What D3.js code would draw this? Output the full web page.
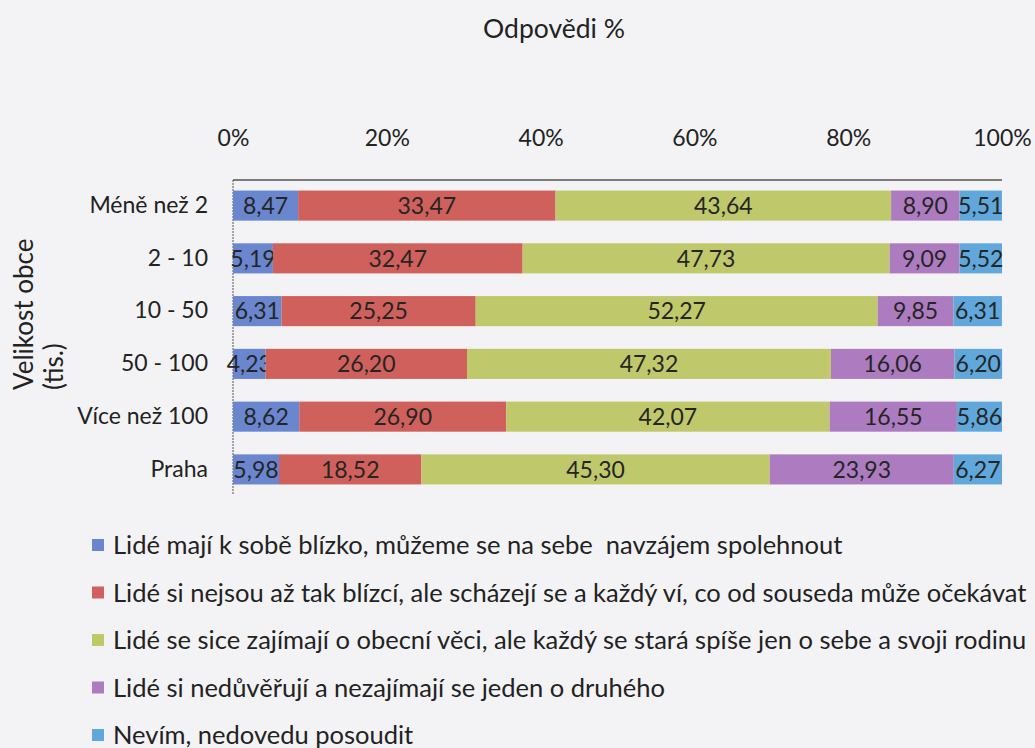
<!DOCTYPE html>
<html lang="cs">
<head>
<meta charset="UTF-8">
<title>Odpovědi %</title>
<style>
  body { margin: 0; background: #f3f3f5; }
  svg { display: block; font-family: Lato, "Liberation Sans", sans-serif; }
</style>
</head>
<body>
<script src="https://cdn.jsdelivr.net/npm/d3@7/dist/d3.min.js"></script>
<script>
// kategorie (velikost obce)
var categories = ['Méně než 2', '2 - 10', '10 - 50', '50 - 100', 'Více než 100', 'Praha'];
// řady - odpovědi
var seriesNames = [
  'Lidé mají k sobě blízko, můžeme se na sebe  navzájem spolehnout',
  'Lidé si nejsou až tak blízcí, ale scházejí se a každý ví, co od souseda může očekávat',
  'Lidé se sice zajímají o obecní věci, ale každý se stará spíše jen o sebe a svoji rodinu',
  'Lidé si nedůvěřují a nezajímají se jeden o druhého',
  'Nevím, nedovedu posoudit'
];
var blizko = [8.47, 5.19, 6.31, 4.23, 8.62, 5.98];
var nejsouBlizci = [33.47, 32.47, 25.25, 26.20, 26.90, 18.52];
var zajimaji = [43.64, 47.73, 52.27, 47.32, 42.07, 45.30];
var neduveruji = [8.90, 9.09, 9.85, 16.06, 16.55, 23.93];
var nevim = [5.51, 5.52, 6.31, 6.20, 5.86, 6.27];
var tickValues = [0, 20, 40, 60, 80, 100];

var colors = ['#6a86cf', '#cf605b', '#c0c86c', '#ad7cc0', '#60a8dc'];

var width = 1035, height = 748;
var margin = {left: 233, right: 33, top: 180, bottom: 253};

var svg = d3.select('body').append('svg')
  .attr('width', width)
  .attr('height', height);

// data pro stack
var rows = categories.map(function(c, i) {
  return {cat: c, s0: blizko[i], s1: nejsouBlizci[i], s2: zajimaji[i], s3: neduveruji[i], s4: nevim[i]};
});
var keys = ['s0', 's1', 's2', 's3', 's4'];
var stacked = d3.stack().keys(keys)(rows);

var x = d3.scaleLinear().domain([0, 100]).range([margin.left, width - margin.right]);
var y = d3.scaleBand().domain(categories)
  .range([margin.top, height - margin.bottom])
  .paddingInner(0.43).paddingOuter(0.2);

// titulek
svg.append('text')
  .attr('x', 554).attr('y', 38)
  .attr('text-anchor', 'middle')
  .attr('font-size', 26.5).attr('fill', '#222')
  .text('Odpovědi %');

// horní osa
var xAxis = d3.axisTop(x).tickValues(tickValues)
  .tickFormat(function(d) { return d + '%'; })
  .tickSize(0).tickPadding(0);
var gx = svg.append('g').attr('transform', 'translate(0,' + 146 + ')').call(xAxis);
gx.select('.domain').remove();
gx.selectAll('text').attr('font-size', 23).attr('fill', '#222').attr('font-family', 'Lato, sans-serif');

// rámeček plochy
svg.append('line')
  .attr('x1', x(0)).attr('x2', x(100))
  .attr('y1', margin.top).attr('y2', margin.top)
  .attr('stroke', '#555').attr('stroke-width', 1.3);
svg.append('line')
  .attr('x1', x(0)).attr('x2', x(0))
  .attr('y1', margin.top).attr('y2', height - margin.bottom)
  .attr('stroke', '#555').attr('stroke-width', 1).attr('stroke-dasharray', '2,1');

// levá osa
var yAxis = d3.axisLeft(y).tickSize(0).tickPadding(25);
var gy = svg.append('g').attr('transform', 'translate(' + margin.left + ',0)').call(yAxis);
gy.select('.domain').remove();
gy.selectAll('text').attr('font-size', 23).attr('fill', '#222').attr('font-family', 'Lato, sans-serif');

// popisek osy Y
var yTitle = svg.append('text')
  .attr('transform', 'translate(0,390) rotate(-90)')
  .attr('text-anchor', 'start')
  .attr('font-size', 26).attr('fill', '#222');
yTitle.append('tspan').attr('x', 0).attr('y', 33).text('Velikost obce');
yTitle.append('tspan').attr('x', 0).attr('y', 63).text('(tis.)');

// pruhy
var layer = svg.selectAll('.layer')
  .data(stacked)
  .enter().append('g')
  .attr('class', 'layer')
  .attr('fill', function(d, i) { return colors[i]; });

layer.selectAll('rect')
  .data(function(d) { return d; })
  .enter().append('rect')
  .attr('x', function(d) { return x(d[0]); })
  .attr('y', function(d) { return y(d.data.cat); })
  .attr('width', function(d) { return x(d[1]) - x(d[0]); })
  .attr('height', y.bandwidth());

// hodnoty
var fmt = function(v) { return v.toFixed(2).replace('.', ','); };
layer.selectAll('text')
  .data(function(d) { return d.map(function(p) { return {p: p, key: d.key}; }); })
  .enter().append('text')
  .attr('x', function(d) { return (x(d.p[0]) + x(d.p[1])) / 2; })
  .attr('y', function(d) { return y(d.p.data.cat) + y.bandwidth() / 2; })
  .attr('dy', '0.36em')
  .attr('text-anchor', 'middle')
  .attr('font-size', 23)
  .attr('fill', '#252525')
  .text(function(d) { return fmt(d.p.data[d.key]); });

// legenda
var legend = svg.selectAll('.legend')
  .data(seriesNames)
  .enter().append('g')
  .attr('class', 'legend')
  .attr('transform', function(d, i) { return 'translate(92,' + (545 + i * 47.5) + ')'; });
legend.append('rect')
  .attr('x', 0).attr('y', -6)
  .attr('width', 12).attr('height', 12)
  .attr('fill', function(d, i) { return colors[i]; });
legend.append('text')
  .attr('x', 21).attr('y', 0).attr('dy', '0.36em')
  .attr('font-size', 25.5).attr('fill', '#222')
  .style('white-space', 'pre')
  .text(function(d) { return d; });
</script>
</body>
</html>
